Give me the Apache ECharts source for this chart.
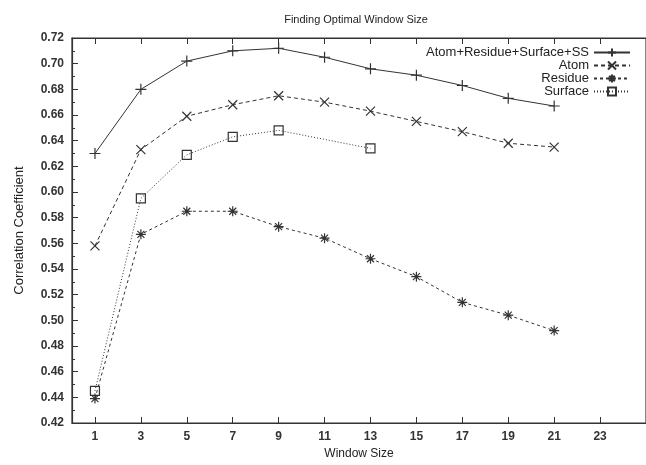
<!DOCTYPE html>
<html>
<head>
<meta charset="utf-8">
<script src="https://cdn.jsdelivr.net/npm/echarts@6/dist/echarts.min.js"></script>
<style>
  html, body { margin: 0; padding: 0; background: #fff; }
  #chart { width: 646px; height: 465px; }
</style>
</head>
<body>
<div id="chart"></div>
<script>
// window sizes (x) and correlation values per feature set
var windowSizes = [1, 3, 5, 7, 9, 11, 13, 15, 17, 19, 21];
var allFeatures = [0.630, 0.680, 0.702, 0.710, 0.712, 0.705, 0.696, 0.691, 0.683, 0.673, 0.667];
var atomVals    = [0.558, 0.633, 0.659, 0.668, 0.675, 0.670, 0.663, 0.655, 0.647, 0.638, 0.635];
var residueVals = [0.439, 0.567, 0.585, 0.585, 0.573, 0.564, 0.548, 0.534, 0.514, 0.504, 0.492];
var surfaceX    = [1, 3, 5, 7, 9, 13];
var surfaceVals = [0.445, 0.595, 0.629, 0.643, 0.648, 0.634];
var xTicks = [1, 3, 5, 7, 9, 11, 13, 15, 17, 19, 21, 23];

function pairs(xs, ys) {
    return xs.map(function (x, i) { return [x, ys[i]]; });
}

var ink = '#333';
var plusSym = 'path://M0 5L10 5M5 0L5 10';
var crossSym = 'path://M0 0L10 10M10 0L0 10';
var starSym = 'path://M0 5L10 5M5 0L5 10M1.5 1.5L8.5 8.5M8.5 1.5L1.5 8.5';

function lineSeries(name, data, sym, size, type) {
    return {
        name: name,
        type: 'line',
        data: data,
        symbol: sym,
        symbolSize: size,
        showSymbol: true,
        animation: false,
        lineStyle: { color: ink, width: 1, type: type },
        itemStyle: { color: 'none', borderColor: ink, borderWidth: 1.2 }
    };
}

var dom = document.getElementById('chart');
var myChart = echarts.init(dom);
var option = {
    backgroundColor: '#fff',
    title: {
        text: 'Finding Optimal Window Size',
        left: 351, top: 9,
        textAlign: 'center',
        textStyle: { fontFamily: 'Liberation Sans', fontSize: 11, fontWeight: 'normal', color: '#222' }
    },
    legend: {
        orient: 'vertical',
        right: 10, top: 41,
        align: 'right',
        itemWidth: 36, itemHeight: 10, itemGap: 0,
        textStyle: { fontFamily: 'Liberation Sans', fontSize: 13, lineHeight: 11, color: '#222' },
        data: ['Atom+Residue+Surface+SS', 'Atom', 'Residue', 'Surface']
    },
    grid: { left: 72, right: -10, top: 38, bottom: 36, show: true, borderColor: ink, borderWidth: 1.2 },
    xAxis: [{
        type: 'value', min: 0, max: 25,
        name: 'Window Size', nameLocation: 'middle', nameGap: 25,
        nameTextStyle: { fontFamily: 'Liberation Sans', fontSize: 12, color: '#222' },
        axisLine: { lineStyle: { color: ink, width: 1.2 } },
        axisTick: { inside: true, length: 6, customValues: xTicks, lineStyle: { color: ink } },
        axisLabel: { customValues: xTicks, margin: 8, fontFamily: 'Liberation Sans', fontSize: 12, fontWeight: 'bold', color: '#333' },
        splitLine: { show: false }
    }, {
        type: 'value', min: 0, max: 25, position: 'top',
        axisLine: { lineStyle: { color: ink, width: 1.2 } },
        axisTick: { inside: true, length: 6, customValues: xTicks, lineStyle: { color: ink } },
        axisLabel: { show: false },
        splitLine: { show: false }
    }],
    yAxis: {
        type: 'value', min: 0.42, max: 0.72, interval: 0.02,
        name: 'Correlation Coefficient', nameLocation: 'middle', nameGap: 46,
        nameTextStyle: { fontFamily: 'Liberation Sans', fontSize: 13, color: '#222' },
        axisLine: { show: true, lineStyle: { color: ink, width: 1.2 } },
        axisTick: { inside: true, length: 6, lineStyle: { color: ink } },
        minorTick: { show: true, splitNumber: 2, length: 3, lineStyle: { color: ink } },
        axisLabel: {
            margin: 8, fontFamily: 'Liberation Sans', fontSize: 12, fontWeight: 'bold', color: '#333',
            formatter: function (v) { return v.toFixed(2); }
        },
        splitLine: { show: false }
    },
    series: [
        lineSeries('Atom+Residue+Surface+SS', pairs(windowSizes, allFeatures), plusSym, 11, 'solid'),
        lineSeries('Atom', pairs(windowSizes, atomVals), crossSym, 9, [4, 3]),
        lineSeries('Residue', pairs(windowSizes, residueVals), starSym, 10, [3, 3]),
        lineSeries('Surface', pairs(surfaceX, surfaceVals), 'rect', 9, [1, 2])
    ]
};
myChart.setOption(option, true);
</script>
</body>
</html>
